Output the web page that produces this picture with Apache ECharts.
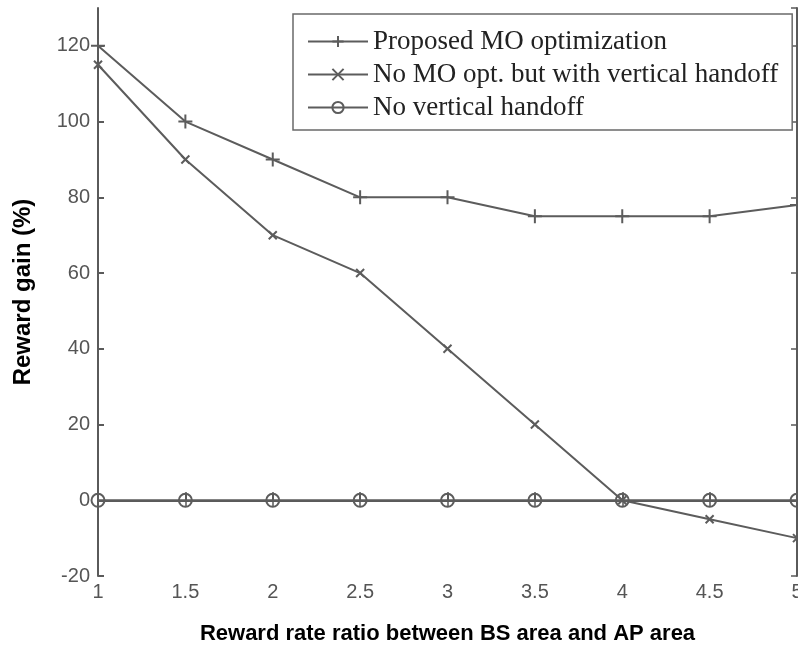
<!DOCTYPE html>
<html>
<head>
<meta charset="utf-8">
<script src="https://cdn.jsdelivr.net/npm/echarts@6/dist/echarts.min.js"></script>
<style>
  html, body { margin: 0; padding: 0; background: #fff; }
  #chart { width: 798px; height: 648px; }
</style>
</head>
<body>
<div id="chart"></div>
<script>
// Reward rate ratio (BS area / AP area)
const ratios = [1, 1.5, 2, 2.5, 3, 3.5, 4, 4.5, 5];

// Reward gain (%) for each scheme
const proposedMO = [120, 100, 90, 80, 80, 75, 75, 75, 78];
const noMOWithHandoff = [115, 90, 70, 60, 40, 20, 0, -5, -10];
const noHandoff = [0, 0, 0, 0, 0, 0, 0, 0, 0];

const seriesNames = [
  'Proposed MO optimization',
  'No MO opt. but with vertical handoff',
  'No vertical handoff'
];

const lineColor = '#5c5c5c';
const axisColor = '#5a5a5a';

const plusSymbol = 'path://M0,5L10,5M5,0L5,10';
const crossSymbol = 'path://M0,0L10,10M10,0L0,10';

function pairs(values) {
  return ratios.map((r, i) => [r, values[i]]);
}

function makeSeries(name, values, symbol, size) {
  return {
    name: name,
    type: 'line',
    data: pairs(values),
    symbol: symbol,
    symbolSize: size,
    showAllSymbol: true,
    lineStyle: { color: lineColor, width: 2 },
    itemStyle: { color: 'transparent', borderColor: lineColor, borderWidth: 2 },
    emphasis: { disabled: true },
    animation: false
  };
}

const chart = echarts.init(document.getElementById('chart'), null, { renderer: 'canvas' });

const tickLabelStyle = {
  color: '#555',
  fontFamily: 'Liberation Sans, Arial, sans-serif',
  fontSize: 20
};

chart.setOption({
  backgroundColor: '#fff',
  animation: false,
  grid: { left: 98, right: 1, top: 8, bottom: 72, outerBoundsMode: 'none', containLabel: false },
  legend: {
    orient: 'vertical',
    left: 293,
    top: 14,
    padding: [14, 14, 9, 14],
    borderColor: '#6a6a6a',
    borderWidth: 1.5,
    backgroundColor: '#fff',
    itemWidth: 60,
    itemHeight: 14,
    itemGap: 6,
    textStyle: {
      color: '#222',
      fontFamily: 'Liberation Serif, Times New Roman, serif',
      fontSize: 27,
      lineHeight: 27
    },
    data: seriesNames
  },
  xAxis: [
    {
      type: 'value',
      min: 1,
      max: 5,
      interval: 0.5,
      position: 'bottom',
      name: 'Reward rate ratio between BS area and AP area',
      nameLocation: 'middle',
      nameGap: 47,
      nameTextStyle: {
        color: '#000',
        fontWeight: 'bold',
        fontFamily: 'Liberation Sans, Arial, sans-serif',
        fontSize: 22
      },
      axisLine: { show: true, lineStyle: { color: axisColor, width: 2 } },
      axisTick: { show: true, inside: true, length: 8, lineStyle: { color: axisColor, width: 2 } },
      axisLabel: { ...tickLabelStyle, margin: 6 },
      splitLine: { show: false }
    },
    {
      type: 'value',
      min: 1,
      max: 5,
      interval: 0.5,
      position: 'top',
      axisLine: { show: true, lineStyle: { color: axisColor, width: 2 } },
      axisTick: { show: true, inside: true, length: 6, lineStyle: { color: axisColor, width: 1.5 } },
      axisLabel: { show: false },
      splitLine: { show: false }
    }
  ],
  yAxis: [
    {
      type: 'value',
      min: -20,
      max: 130,
      interval: 20,
      position: 'left',
      name: 'Reward gain (%)',
      nameLocation: 'middle',
      nameGap: 63,
      nameTextStyle: {
        color: '#000',
        fontWeight: 'bold',
        fontFamily: 'Liberation Sans, Arial, sans-serif',
        fontSize: 24
      },
      axisLine: { show: true, lineStyle: { color: axisColor, width: 2 } },
      axisTick: { show: true, inside: true, length: 6, lineStyle: { color: axisColor, width: 2 } },
      axisLabel: {
        ...tickLabelStyle,
        margin: 8,
        showMaxLabel: false,
        formatter: v => (v % 20 === 0 ? String(v) : '')
      },
      splitLine: { show: false }
    },
    {
      type: 'value',
      min: -20,
      max: 130,
      interval: 20,
      position: 'right',
      axisLine: { show: true, lineStyle: { color: axisColor, width: 2 } },
      axisTick: { show: true, inside: true, length: 6, lineStyle: { color: axisColor, width: 1.5 } },
      axisLabel: { show: false },
      splitLine: { show: false }
    }
  ],
  series: [
    makeSeries(seriesNames[0], proposedMO, plusSymbol, 14),
    makeSeries(seriesNames[1], noMOWithHandoff, crossSymbol, 8),
    Object.assign(makeSeries(seriesNames[2], noHandoff, 'circle', 13), { z: 1 })
  ]
});
</script>
</body>
</html>
